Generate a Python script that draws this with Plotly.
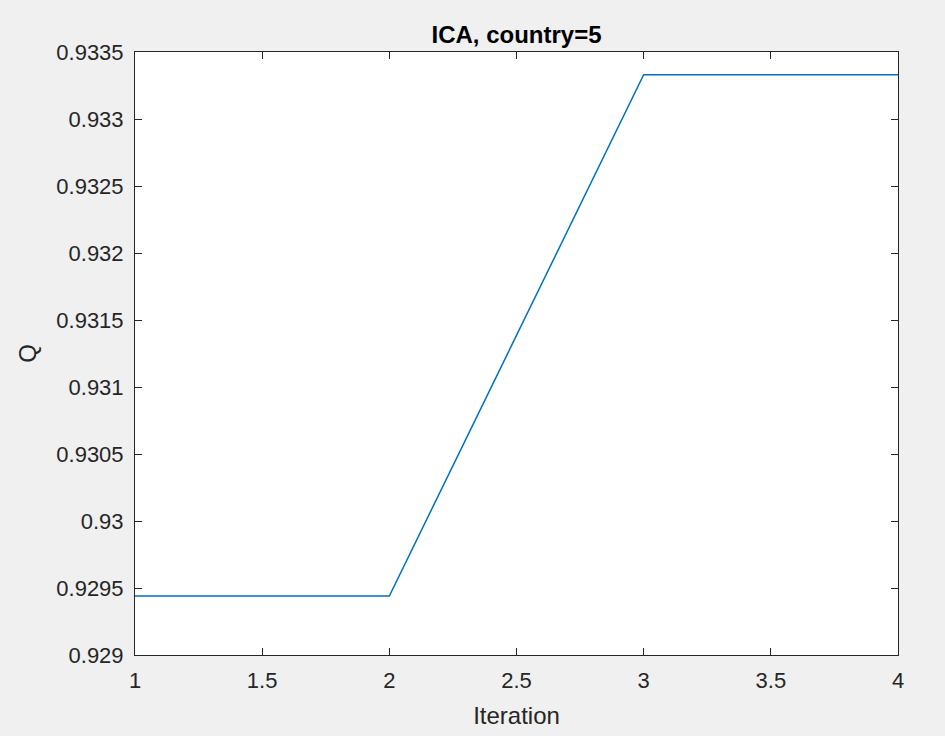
import plotly.graph_objects as go

iterations = [1, 2, 3, 4]
q_values = [0.92944, 0.92944, 0.93333, 0.93333]

x_ticks = [1, 1.5, 2, 2.5, 3, 3.5, 4]
x_tick_labels = ["1", "1.5", "2", "2.5", "3", "3.5", "4"]
y_ticks = [0.929, 0.9295, 0.93, 0.9305, 0.931, 0.9315, 0.932, 0.9325, 0.933, 0.9335]
y_tick_labels = ["0.929", "0.9295", "0.93", "0.9305", "0.931", "0.9315", "0.932", "0.9325", "0.933", "0.9335"]

FONT = "Liberation Sans, Arial"
axis_common = dict(showline=True, linecolor="#262626", linewidth=1, mirror="ticks",
                   ticks="inside", ticklen=7, tickcolor="#262626", tickwidth=1,
                   showgrid=False, zeroline=False,
                   tickfont=dict(family=FONT, size=22, color="#262626"))

fig = go.Figure()
fig.add_trace(go.Scatter(x=iterations, y=q_values, mode="lines",
                         line=dict(color="#0072BD", width=1.5), showlegend=False))

fig.update_layout(
    width=945, height=736,
    paper_bgcolor="#f0f0f0", plot_bgcolor="white",
    margin=dict(l=135, r=47, t=52, b=79),
    title=dict(text="<b>ICA, country=5</b>", x=(135 + 898) / 2 / 945, xanchor="center",
               y=1 - 35 / 736, yanchor="middle",
               font=dict(family=FONT, size=24, color="black")),
    xaxis=dict(range=[1, 4], tickvals=x_ticks, ticktext=x_tick_labels,
               ticklabelstandoff=6,
               title=dict(text="Iteration", standoff=14,
                          font=dict(family=FONT, size=24, color="#262626")),
               **axis_common),
    yaxis=dict(range=[0.929, 0.9335], tickvals=y_ticks, ticktext=y_tick_labels,
               ticklabelstandoff=6,
               title=dict(text="Q", standoff=12,
                          font=dict(family=FONT, size=24, color="#262626")),
               **axis_common),
)

fig.write_html("out.html")
